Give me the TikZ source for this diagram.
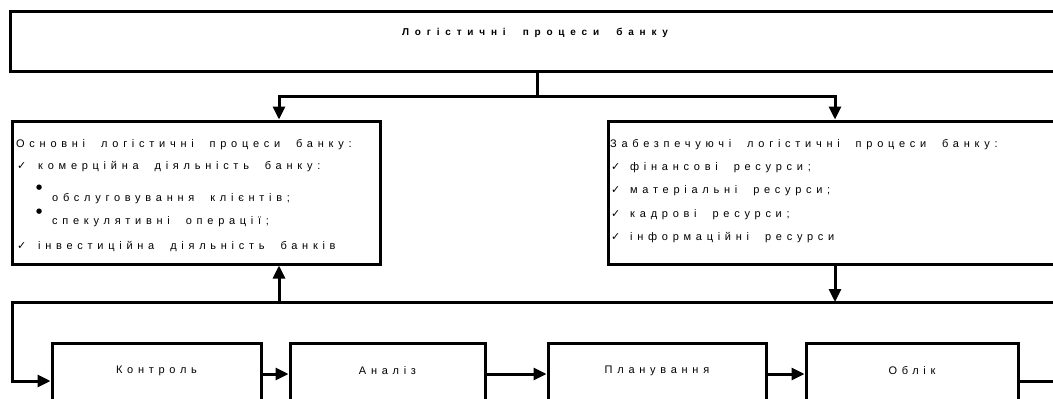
\documentclass[tikz,border=0pt]{standalone}
\usepackage{fontspec}
\setmainfont{Liberation Sans}[LetterSpace=43, WordSpace=2.05]
\newfontfamily\titlefont{Liberation Sans}[LetterSpace=58, WordSpace=2]
\newfontfamily\symb{DejaVu Sans}
\usetikzlibrary{arrows.meta}

\tikzset{
  box/.style={draw, line width=3pt, inner sep=0pt},
  line/.style={line width=3pt},
  arr/.style={line width=3pt, -{Triangle[length=13pt,width=12pt]}},
  txt/.style={anchor=base west, inner sep=0pt, font=\fontsize{11}{13}\selectfont},
  lbl/.style={inner sep=0pt, font=\fontsize{11}{13}\selectfont},
}
\newcommand{\chk}{{\symb\fontsize{11}{11}\selectfont ✓}}
\newcommand{\blt}{{\symb\fontsize{7}{7}\selectfont ●}}

\begin{document}
\begin{tikzpicture}[x=1pt,y=-1pt]
\useasboundingbox (0,0) rectangle (1053,399);
\clip (0,0) rectangle (1053,399);

% Блоки
\node[box, minimum width=1060pt, minimum height=60pt] (top) at (540,41) {};
\node[box, minimum width=368pt, minimum height=143pt] (mainproc) at (196,192.5) {};
\node[box, minimum width=462pt, minimum height=143pt] (support) at (839,192.5) {};
\node[box, minimum width=209pt, minimum height=76pt] (kontrol) at (156.5,381) {};
\node[box, minimum width=195pt, minimum height=76pt] (analiz) at (387.5,381) {};
\node[box, minimum width=218pt, minimum height=76pt] (plan) at (657,381) {};
\node[box, minimum width=212pt, minimum height=76pt] (oblik) at (912,381) {};

% Заголовок
\node[inner sep=0pt, font=\titlefont\bfseries\fontsize{10}{12}\selectfont] (title) at (535,33) {Логістичні процеси банку};

% Основні процеси
\node[txt] (m0) at (16,147) {Основні логістичні процеси банку:};
\node[txt] (m1c) at (17,169) {\chk};
\node[txt] (m1) at (38,169) {комерційна діяльність банку:};
\node[txt] (m2b) at (36,189) {\blt};
\node[txt] (m2) at (52,201) {обслуговування клієнтів;};
\node[txt] (m3b) at (36,213) {\blt};
\node[txt] (m3) at (52,224) {спекулятивні операції;};
\node[txt] (m4c) at (17,249) {\chk};
\node[txt] (m4) at (38,249) {інвестиційна діяльність банків};

% Забезпечуючі процеси
\node[txt] (s0) at (610,147) {Забезпечуючі логістичні процеси банку:};
\node[txt] (s1c) at (611,170) {\chk};
\node[txt] (s1) at (630,170) {фінансові ресурси;};
\node[txt] (s2c) at (611,193) {\chk};
\node[txt] (s2) at (630,193) {матеріальні ресурси;};
\node[txt] (s3c) at (611,217) {\chk};
\node[txt] (s3) at (630,217) {кадрові ресурси;};
\node[txt] (s4c) at (611,240) {\chk};
\node[txt] (s4) at (630,240) {інформаційні ресурси};

% Етапи
\node[lbl] (kontrolL) at ([yshift=-29pt]kontrol.north) {Контроль};
\node[lbl] (analizL) at ([yshift=-29pt]analiz.north) {Аналіз};
\node[lbl] (planL) at ([yshift=-29pt]plan.north) {Планування};
\node[lbl] (oblikL) at ([yshift=-29pt]oblik.north) {Облік};

% Точки розгалуження
\coordinate (fork) at (537,96);
\coordinate (forkL) at (279,96);
\coordinate (forkR) at (835,96);
\coordinate (busL) at (12,302);
\coordinate (busR) at (1060,302);
\coordinate (busUp) at (279,302);
\coordinate (busDown) at (835,302);
\coordinate (outR) at (1060,381);

% Зв'язки
\draw[line] (fork |- top.south) -- (fork);
\draw[arr] (fork) -| (forkL |- mainproc.north);
\draw[arr] (fork) -| (forkR |- support.north);
\draw[arr] (busR) -- (busL) |- (kontrol.west);
\draw[arr] (busUp) -- (busUp |- mainproc.south);
\draw[arr] (busDown |- support.south) -- (busDown);
\draw[arr] ([yshift=7pt]kontrol.east) -- ([yshift=7pt]analiz.west);
\draw[arr] ([yshift=7pt]analiz.east) -- ([yshift=7pt]plan.west);
\draw[arr] ([yshift=7pt]plan.east) -- ([yshift=7pt]oblik.west);
\draw[line] (oblik.east) -- (outR);

\end{tikzpicture}
\end{document}
